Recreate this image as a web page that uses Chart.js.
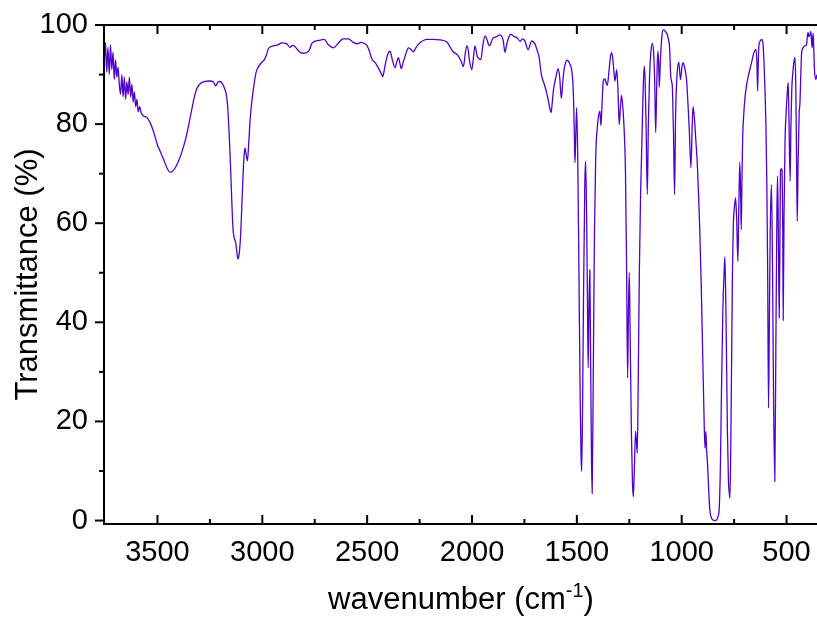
<!DOCTYPE html>
<html><head><meta charset="utf-8">
<script src="https://cdn.jsdelivr.net/npm/chart.js@4.4.0/dist/chart.umd.min.js"></script>
<style>html,body{margin:0;padding:0;overflow:hidden;background:#fff;width:817px;height:617px}canvas{display:block}</style>
</head><body>
<canvas id="c" width="830" height="617"></canvas>
<script>
const wavenumber = [
3754,3748,3742,3736,3730,3724,3718,3712,3706,3700,
3694,3688,3682,3676,3670,3664,3658,3652,3646,3640,
3634,3628,3622,3616,3610,3604,3598,3592,3585,3578,
3570,3560,3550,3535,3519,3500,3487,
3470,3455,3440,3428,3415,3400,3385,3370,3355,3340,
3325,3312,3295,3275,3250,3233,3222,3212,3200,3188,
3180,3172,3165,3158,3152,3146,3140,3134,3128,3122,
3117,3112,3106,3100,3094,3088,3083,3077,3071,3065,
3058,3050,3042,3030,3015,3002,2990,2980,2971,2947,
2925,2907,2883,2868,2855,2844,2823,2805,2790,2775,
2765,2756,2730,2705,2685,2661,2640,2616,2590,2566,
2545,2530,2510,2500,2490,2478,2460,2445,2433,2426,
2418,2410,2400,2391,2380,2367,2358,2351,2344,2338,
2328,2319,2303,2290,2280,2265,2248,2216,2185,2153,
2121,2105,2090,2073,2060,2049,2041,2033,2025,2018,
2013,2001,1993,1986,1975,1966,1958,1948,1938,1930,
1917,1901,1885,1867,1851,1843,1835,1825,1815,1800,
1785,1771,1760,1748,1732,1722,1715,1700,1690,1680,
1670,1663,1655,1644,1635,1628,1623,1618,1612,1600,
1589,1582,1574,1567,1561,1553,1545,1535,1525,1520,
1516,1512,1509,1505,1501,1496,1490,1484,1480,1477,
1473,1468,1462,1458,1453,1449,1446,1442,1438,1434,
1430,1427,1422,1416,1410,1402,1395,1390,1385,1380,
1374,1366,1360,1355,1345,1340,1334,1328,1322,1318,
1310,1304,1298,1292,1287,1280,1274,1268,1263,1258,
1254,1250,1246,1240,1235,1231,1226,1220,1216,1212,
1208,1202,1196,1191,1185,1179,1175,1170,1164,1159,
1153,1146,1140,1134,1129,1124,1119,1114,1110,1107,
1102,1095,1088,1080,1070,1064,1058,1052,1048,1044,
1039,1034,1029,1022,1014,1006,998,993,985,977,
970,964,956,950,946,940,933,925,918,913,
906,900,894,889,885,881,877,871,866,858,
850,842,834,827,821,815,810,804,798,794,
790,786,782,777,773,770,766,762,758,754,
748,743,738,732,728,723,719,716,713,709,
704,699,690,684,675,667,660,656,646,641,
638,635,632,625,619,613,608,603,598,594,
590,586,582,578,572,567,562,556,551,546,
543,539,535,531,529,525,521,518,516,512,
507,502,497,492,488,483,479,475,470,465,
460,456,452,449,445,440,436,432,428,420,
413,405,400,397,393,388,384,381,378,375,
373,370,366,360,355
];
const transmittance = [
92,96.5,90.5,95.5,90,96,91,94.5,89,93,
89.5,91.5,88,86,90,85.5,89.5,85,88.5,86,
89.5,85.5,88,84.5,86.5,83.5,85,82.5,83.5,82.3,
81.8,81.5,81.3,80.3,78.5,75.8,74.5,
72.8,71.2,70.3,70.5,71.2,72.5,74.2,76.3,79,82.2,
85.3,87.2,88.2,88.6,88.7,88.5,87.7,88.5,88.6,88,
87.2,86,83.5,78,72,65,59,57,56.3,54.5,
52.8,53.3,55.8,61,67.5,73,75.2,73.8,72.6,76,
81,84.5,87.2,90.4,91.8,92.5,93,94,95.2,95.8,
96,96.4,96.2,95.5,95.9,95.6,94.6,94.3,94.4,95,
96.2,96.6,96.9,97.1,96,95.4,96.2,97.2,97.2,96.5,
96.2,96.5,96.2,95.8,94.8,93.2,92.3,91.2,90.2,89.6,
91,92.8,94.3,94.7,93,91.4,92.7,93.4,92.3,91.2,
92.5,93.7,95.4,95,94.6,95.6,96.4,97.1,97.1,97,
96.6,95.6,94.6,94.1,93.4,92.4,91.6,94,95.8,95,
93.1,91,93.5,95.8,93.7,93.2,93,96,97.8,97.2,
95.8,97.3,97.6,98,96.8,94.5,96,97.5,98.1,97.7,
97.4,96.7,97.2,96.8,95,96.2,96.8,96.2,95,93.5,
90.2,89,88,86.3,84.5,83,82.3,84,86.7,89.5,
91.2,89.5,85.2,88.5,91,92.5,92.9,92.3,91,89,
85.5,78,72.2,78,83.3,74,50,24,13,9.9,
22,46,68,72.5,60,42,30.8,44,50.6,30,
12,5.5,28,58,73.5,79.5,82,82.6,79.7,84,
88.7,89.1,88.3,87.8,91.5,93.5,94.4,93,90,88.7,
91,87,79.9,83.5,85.8,83,78.5,70,52,28.8,
42,50,38,18,8,4.8,10,18,16,13.6,
25,50,66,74.3,85,91.7,89.5,80,65.8,80,
90,95,96.3,94.5,89,78.3,88,94.7,92.5,87.4,
92.5,97.5,99,98.8,98.2,97.3,95.5,89.5,88.6,87,
78,65.8,82,90,92.5,89,91.8,92.4,91.2,89,
84,79,71.2,79.5,83.5,81.5,77,71.5,64,57.4,
46,33.8,22,14.6,18,14,11.6,6,2.2,0.5,
0.1,0,0.1,0.8,2.5,12,27,42,50,53.2,
45,32,18,8,5.5,4.5,15,32,50,59.4,
63.5,65.1,61,52.3,62,72.3,66,58.7,68,77.6,
82,85,88,89.4,91,92.4,93.7,94.4,95.1,92,
86.7,92,95.8,96.8,97.1,96.5,93,87,79,68,
50,22.7,40,58,67.8,52,25,7.9,35,62,
69.5,58,40.9,60,70.5,71,70.5,58,40.4,62,
77,82.3,86,88.4,80,68.5,80,87,90.4,92.5,
93.4,88,72,60.4,72,82,84.3,90,94.4,95.5,
95.8,96,98,98.5,97.6,98,98.7,97,95.4,97.5,
98.3,95,90.4,89,90
];
const xMajorTicks = [3500, 3000, 2500, 2000, 1500, 1000, 500];
const xMinorTicks = [3250, 2750, 2250, 1750, 1250, 750];
const yMajorTicks = [0, 20, 40, 60, 80, 100];
const yMinorTicks = [10, 30, 50, 70, 90];
const xTitleMain = 'wavenumber (cm';
const xTitleSup = '-1';
const xTitleEnd = ')';
const yTitle = 'Transmittance (%)';

const FONT = "'Liberation Sans', Arial, sans-serif";
const points = wavenumber.map((w, i) => ({x: w, y: transmittance[i]}));

const framePlugin = {
  id: 'frame',
  afterDraw(chart) {
    const {ctx, chartArea: a, scales} = chart;
    const xs = scales.x, ys = scales.y;
    ctx.save();
    ctx.strokeStyle = '#000';
    ctx.lineWidth = 2;
    ctx.beginPath();
    ctx.rect(a.left, a.top, a.right - a.left, a.bottom - a.top);
    ctx.stroke();
    const seg = (x1, y1, x2, y2) => { ctx.beginPath(); ctx.moveTo(x1, y1); ctx.lineTo(x2, y2); ctx.stroke(); };
    xMajorTicks.forEach(v => { const p = xs.getPixelForValue(v); seg(p, a.bottom, p, a.bottom - 9); seg(p, a.top, p, a.top + 9); });
    xMinorTicks.forEach(v => { const p = xs.getPixelForValue(v); seg(p, a.bottom, p, a.bottom - 5); seg(p, a.top, p, a.top + 5); });
    yMajorTicks.forEach(v => { const p = ys.getPixelForValue(v); seg(a.left - 9, p, a.left, p); });
    yMinorTicks.forEach(v => { const p = ys.getPixelForValue(v); seg(a.left - 5, p, a.left, p); });
    ctx.fillStyle = '#000';
    ctx.textBaseline = 'alphabetic';
    const big = '31px ' + FONT, small = '20px ' + FONT;
    ctx.font = big;
    const w1 = ctx.measureText(xTitleMain).width;
    const w3 = ctx.measureText(xTitleEnd).width;
    ctx.font = small;
    const w2 = ctx.measureText(xTitleSup).width;
    const total = w1 + w2 + w3;
    const cx = (a.left + a.right) / 2;
    const x0 = cx - total / 2;
    const by = 609;
    ctx.textAlign = 'left';
    ctx.font = big; ctx.fillText(xTitleMain, x0, by);
    ctx.font = small; ctx.fillText(xTitleSup, x0 + w1, by - 12);
    ctx.font = big; ctx.fillText(xTitleEnd, x0 + w1 + w2, by);
    ctx.save();
    ctx.translate(37, (a.top + a.bottom) / 2);
    ctx.rotate(-Math.PI / 2);
    ctx.textAlign = 'center';
    ctx.font = '31px ' + FONT;
    ctx.fillText(yTitle, 0, 0);
    ctx.restore();
    ctx.restore();
  }
};

new Chart(document.getElementById('c'), {
  type: 'line',
  data: { datasets: [{ data: points, borderColor: '#5000CC', borderWidth: 1.3, pointRadius: 0, fill: false, cubicInterpolationMode: 'monotone' }] },
  options: {
    responsive: false, animation: false, clip: true,
    layout: { padding: { top: 25, right: 12, left: 0, bottom: 0 } },
    plugins: { legend: { display: false }, tooltip: { enabled: false } },
    scales: {
      x: {
        type: 'linear', reverse: true, min: 350, max: 3755,
        grid: { display: false, drawTicks: false }, border: { display: false },
        afterBuildTicks: s => { s.ticks = xMajorTicks.map(v => ({value: v})); },
        afterFit: s => { s.height = 93; s.paddingLeft = 0; s.paddingRight = 0; },
        ticks: { color: '#000', font: { family: FONT, size: 29 }, padding: 12, maxRotation: 0, autoSkip: false, callback: v => String(v) }
      },
      y: {
        type: 'linear', min: -0.7, max: 100,
        grid: { display: false, drawTicks: false }, border: { display: false },
        afterBuildTicks: s => { s.ticks = yMajorTicks.map(v => ({value: v})); },
        afterFit: s => { s.width = 104; s.paddingTop = 0; s.paddingBottom = 0; },
        ticks: { color: '#000', font: { family: FONT, size: 29 }, padding: 16, callback: v => String(v) }
      }
    }
  },
  plugins: [framePlugin]
});
</script>
</body></html>
